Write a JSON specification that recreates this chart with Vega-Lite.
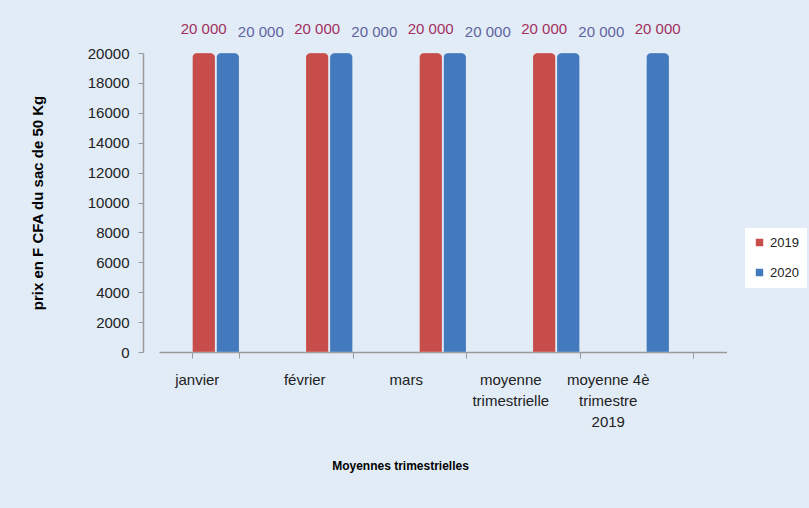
{
  "$schema": "https://vega.github.io/schema/vega-lite/v6.json",
  "autosize": "none",
  "width": 567.5,
  "height": 299,
  "padding": {"left": 159, "top": 53, "right": 82.5, "bottom": 156},
  "background": "#e1ecf7",
  "config": {
    "view": {"stroke": null},
    "font": "Liberation Sans",
    "locale": {"number": {"decimal": ",", "thousands": " ", "grouping": [3], "currency": ["", ""]}}
  },
  "data": {
    "values": [
      {"mois": "janvier", "annee": "2019", "prix": 20000},
      {"mois": "janvier", "annee": "2020", "prix": 20000},
      {"mois": "février", "annee": "2019", "prix": 20000},
      {"mois": "février", "annee": "2020", "prix": 20000},
      {"mois": "mars", "annee": "2019", "prix": 20000},
      {"mois": "mars", "annee": "2020", "prix": 20000},
      {"mois": "moyenne trimestrielle", "annee": "2019", "prix": 20000},
      {"mois": "moyenne trimestrielle", "annee": "2020", "prix": 20000},
      {"mois": "moyenne 4è trimestre 2019", "annee": "2019", "prix": 20000}
    ]
  },
  "encoding": {
    "x": {
      "field": "mois",
      "type": "nominal",
      "sort": ["janvier", "février", "mars", "moyenne trimestrielle", "moyenne 4è trimestre 2019"],
      "scale": {"paddingInner": 0.586, "paddingOuter": 0.293},
      "axis": {
        "title": "Moyennes trimestrielles",
        "titleFont": "Liberation Sans",
        "titleFontWeight": "bold",
        "titleFontSize": 12,
        "titleColor": "#000000",
        "titleX": 241,
        "titleY": 113,
        "titleBaseline": "middle",
        "labelAngle": 0,
        "labelFontSize": 15,
        "labelColor": "#222222",
        "labelPadding": 14,
        "labelLineHeight": 21,
        "labelBaseline": "top",
        "labelExpr": "datum.value == 'moyenne trimestrielle' ? ['moyenne','trimestrielle'] : datum.value == 'moyenne 4è trimestre 2019' ? ['moyenne 4è','trimestre','2019'] : datum.value",
        "labelOffset": {
          "condition": [
            {"test": "datum.value == 'janvier'", "value": -19},
            {"test": "datum.value == 'février'", "value": -25},
            {"test": "datum.value == 'mars'", "value": -37},
            {"test": "datum.value == 'moyenne trimestrielle'", "value": -46}
          ],
          "value": -62
        },
        "tickBand": "extent",
        "tickColor": "#9a9a9a",
        "tickSize": 6,
        "domainColor": "#9a9a9a",
        "domainWidth": 1.5
      }
    },
    "y": {
      "field": "prix",
      "type": "quantitative",
      "scale": {"domain": [0, 20000], "nice": false},
      "axis": {
        "title": "prix en F CFA du sac de 50 Kg",
        "titleFont": "Liberation Sans",
        "titleFontWeight": "bold",
        "titleFontSize": 15,
        "titleColor": "#000000",
        "titlePadding": 42,
        "values": [0, 2000, 4000, 6000, 8000, 10000, 12000, 14000, 16000, 18000, 20000],
        "format": "d",
        "offset": 16,
        "grid": false,
        "labelFontSize": 15,
        "labelColor": "#222222",
        "labelPadding": 9,
        "tickColor": "#9a9a9a",
        "tickSize": 5,
        "domainColor": "#9a9a9a",
        "domainWidth": 1.5
      }
    },
    "xOffset": {"field": "annee", "type": "nominal", "scale": {"domain": ["2019", "2020"], "paddingInner": 0.05}}
  },
  "layer": [
    {
      "mark": {"type": "bar", "cornerRadiusTopLeft": 5, "cornerRadiusTopRight": 5, "stroke": "#ffffff", "strokeOpacity": 0.15},
      "encoding": {
        "color": {
          "condition": {"test": "datum.mois == 'moyenne 4è trimestre 2019'", "value": "#4379bd"},
          "field": "annee",
          "type": "nominal",
          "scale": {"domain": ["2019", "2020"], "range": ["#c64d49", "#4379bd"]},
          "legend": {
            "title": null,
            "orient": "none",
            "legendX": 586,
            "legendY": 175,
            "fillColor": "#ffffff",
            "padding": 8,
            "symbolType": "square",
            "symbolSize": 80,
            "labelFontSize": 13,
            "labelColor": "#222222",
            "rowPadding": 15,
            "labelOffset": 4
          }
        }
      }
    },
    {
      "transform": [{"filter": "datum.annee == '2019'"}],
      "mark": {"type": "text", "fontSize": 15, "baseline": "middle", "dy": -24, "color": "#a3305e"},
      "encoding": {
        "text": {"field": "prix", "type": "quantitative", "format": ",d"}
      }
    },
    {
      "transform": [{"filter": "datum.annee == '2020'"}],
      "mark": {"type": "text", "fontSize": 15, "baseline": "middle", "dy": -21, "dx": 33, "color": "#5f63a0"},
      "encoding": {
        "text": {"field": "prix", "type": "quantitative", "format": ",d"}
      }
    }
  ]
}
